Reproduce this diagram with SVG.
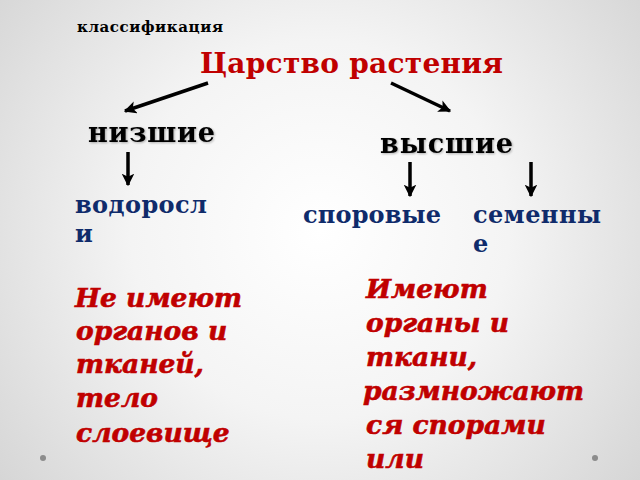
<svg xmlns="http://www.w3.org/2000/svg" width="640" height="480" viewBox="0 0 640 480">
<defs>
<radialGradient id="bg" cx="320" cy="230" r="420" gradientUnits="userSpaceOnUse">
<stop offset="0" stop-color="#ffffff"/>
<stop offset="0.45" stop-color="#f4f4f4"/>
<stop offset="1" stop-color="#d4d4d4"/>
</radialGradient>
<marker id="ah" viewBox="0 0 10 10" refX="9" refY="5" markerWidth="3.6" markerHeight="3.6" orient="auto" markerUnits="strokeWidth">
<path d="M0,0 L10,5 L0,10 L2.5,5 Z" fill="#000"/>
</marker>
<filter id="sh" x="-10%" y="-20%" width="120%" height="150%">
<feGaussianBlur in="SourceAlpha" stdDeviation="0.8"/>
<feOffset dx="1.2" dy="1.2" result="b"/>
<feComponentTransfer><feFuncA type="linear" slope="0.3"/></feComponentTransfer>
<feMerge><feMergeNode/><feMergeNode in="SourceGraphic"/></feMerge>
</filter>
</defs>
<style>
.s{font-family:"DejaVu Serif","Liberation Serif",serif;font-weight:bold}
.k{fill:#000}
.r{fill:#c00000}
.b{fill:#0f2b6b;font-size:24px}
.i{font-style:italic;fill:#c00000;stroke:#c00000;stroke-width:0.6;font-size:26.5px}
.c{stroke:#000;stroke-width:3.5;fill:none;marker-end:url(#ah)}
</style>
<rect width="640" height="480" fill="url(#bg)"/>
<g id="label-classification"><text class="s k" x="77" y="32" font-size="15" textLength="146" lengthAdjust="spacing">классификация</text></g>
<g id="node-kingdom"><text class="s r" x="200" y="73" font-size="28" textLength="303" lengthAdjust="spacing">Царство растения</text></g>
<g id="node-lower" filter="url(#sh)"><text class="s k" x="88" y="142" font-size="27" textLength="127" lengthAdjust="spacing">низшие</text></g>
<g id="node-higher" filter="url(#sh)"><text class="s k" x="380" y="153" font-size="27" textLength="133" lengthAdjust="spacing">высшие</text></g>
<g id="node-algae">
<text class="s b" x="75" y="213" textLength="132" lengthAdjust="spacing">водоросл</text>
<text class="s b" x="75" y="242">и</text>
</g>
<g id="node-spore"><text class="s b" x="303" y="223" textLength="138" lengthAdjust="spacing">споровые</text></g>
<g id="node-seed">
<text class="s b" x="473" y="223" textLength="128" lengthAdjust="spacing">семенны</text>
<text class="s b" x="473" y="252">е</text>
</g>
<g id="desc-lower">
<text class="s i" x="75" y="307">Не имеют</text>
<text class="s i" x="76" y="340">органов и</text>
<text class="s i" x="76" y="373">тканей,</text>
<text class="s i" x="76" y="407">тело</text>
<text class="s i" x="76" y="442">слоевище</text>
</g>
<g id="desc-higher">
<text class="s i" x="366" y="298">Имеют</text>
<text class="s i" x="366" y="332">органы и</text>
<text class="s i" x="366" y="366">ткани,</text>
<text class="s i" x="363" y="400">размножают</text>
<text class="s i" x="366" y="434">ся спорами</text>
<text class="s i" x="366" y="468">или</text>
</g>
<g id="connectors">
<line class="c" x1="208" y1="83" x2="125" y2="111"/>
<line class="c" x1="391" y1="83" x2="450" y2="111"/>
<line class="c" x1="128" y1="152" x2="128" y2="185"/>
<line class="c" x1="410" y1="162" x2="410" y2="196"/>
<line class="c" x1="531" y1="162" x2="531" y2="196"/>
</g>
<g id="dots" fill="#8c8c8c"><circle cx="43" cy="458" r="3"/><circle cx="595" cy="458" r="3"/></g>
</svg>
